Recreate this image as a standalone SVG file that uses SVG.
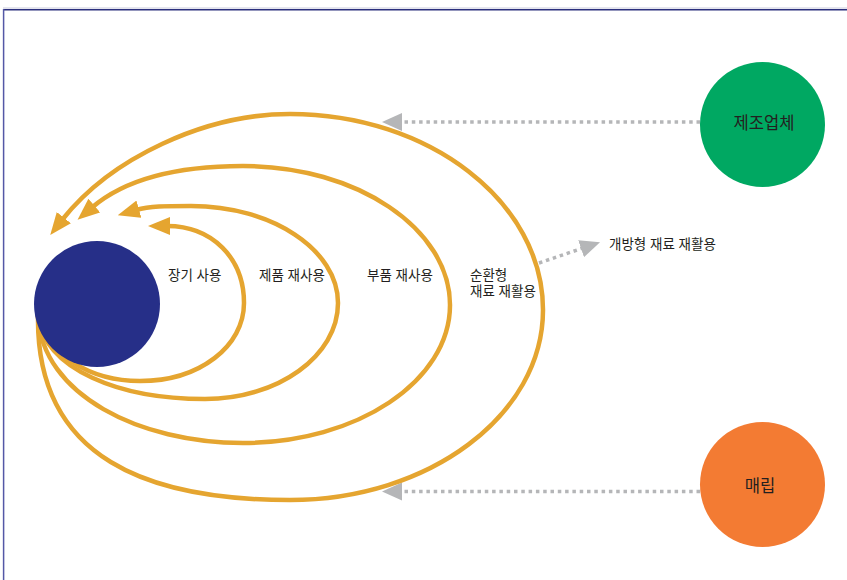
<svg xmlns="http://www.w3.org/2000/svg" width="847" height="580" viewBox="0 0 847 580">
  <style>
    .loop { fill: none; stroke: #e5a530; stroke-width: 4.5; stroke-linecap: butt; marker-end: url(#arrOrange); }
    .dots { fill: none; stroke: #b5b6b8; stroke-width: 3.5; stroke-dasharray: 3.5 3.8; marker-end: url(#arrGrey); }
    .lbl { font-family: "Liberation Sans", "Noto Sans CJK KR", sans-serif; font-size: 13.5px; fill: #231f20; }
    .nodelbl { font-family: "Liberation Sans", "Noto Sans CJK KR", sans-serif; font-size: 16.6px; fill: #231f20; text-anchor: middle; }
  </style>
  <defs>
    <marker id="arrOrange" markerUnits="userSpaceOnUse" viewBox="0 0 22 18" markerWidth="22" markerHeight="18" refX="3" refY="9" orient="auto">
      <path d="M0,0 L22,9 L0,18 z" fill="#e5a530"/>
    </marker>
    <marker id="arrGrey" markerUnits="userSpaceOnUse" viewBox="0 0 20 18" markerWidth="20" markerHeight="18" refX="2" refY="9" orient="auto">
      <path d="M0,0 L20,9 L0,18 z" fill="#b5b6b8"/>
    </marker>
  </defs>

  <rect width="847" height="580" fill="#ffffff"/>
  <g id="frame">
    <line x1="3" y1="8" x2="847" y2="8" stroke="#c9cadc" stroke-width="1"/>
    <line x1="3" y1="9.7" x2="847" y2="9.7" stroke="#2b2f7d" stroke-width="1.5"/>
    <line x1="3.6" y1="9" x2="3.6" y2="580" stroke="#5458a6" stroke-width="1.5"/>
  </g>

  <g id="connectors">
    <path class="dots" d="M700,122 L400,122"/>
    <path class="dots" d="M700,491.5 L400,491.5"/>
    <path class="dots" d="M539,263 L583,248"/>
    <path id="loop-long-use" class="loop" d="M38,316 C48,355 90,381 140,381 C200,381 244,346 244,303 C244,258 212,226 167,226"/>
    <path id="loop-product-reuse" class="loop" d="M38,316 C45,370 120,399 205,399 C278,399 338,356 338,303 C338,250 272,206 191,206 C165,206 150,206 136,210"/>
    <path id="loop-part-reuse" class="loop" d="M38,316 C42,395 140,443 243,443 C357,443 450,381 450,305 C450,229 357,166 243,166 C188,166 130,175 92,207.5"/>
    <path id="loop-closed-recycle" class="loop" d="M38,316 C36,460 150,500 290,500 C429,500 543,415 543,310 C543,202 429,114 290,114 C205,114 111,158 62,220"/>
  </g>

  <g id="node-center">
    <circle cx="97" cy="304" r="63" fill="#262f88"/>
  </g>
  <g id="node-manufacturer">
    <circle cx="762.5" cy="124.5" r="62.5" fill="#00a862"/>
    <text class="nodelbl" x="764" y="129">제조업체</text>
  </g>
  <g id="node-landfill">
    <circle cx="762.5" cy="484.5" r="62.5" fill="#f37b33"/>
    <text class="nodelbl" x="760" y="492">매립</text>
  </g>

  <g id="labels">
    <text class="lbl" x="168" y="280">장기 사용</text>
    <text class="lbl" x="259" y="280">제품 재사용</text>
    <text class="lbl" x="367" y="280">부품 재사용</text>
    <text class="lbl" x="470" y="280">순환형</text>
    <text class="lbl" x="470" y="295.5">재료 재활용</text>
    <text class="lbl" x="609" y="248.5">개방형 재료 재활용</text>
  </g>
</svg>
